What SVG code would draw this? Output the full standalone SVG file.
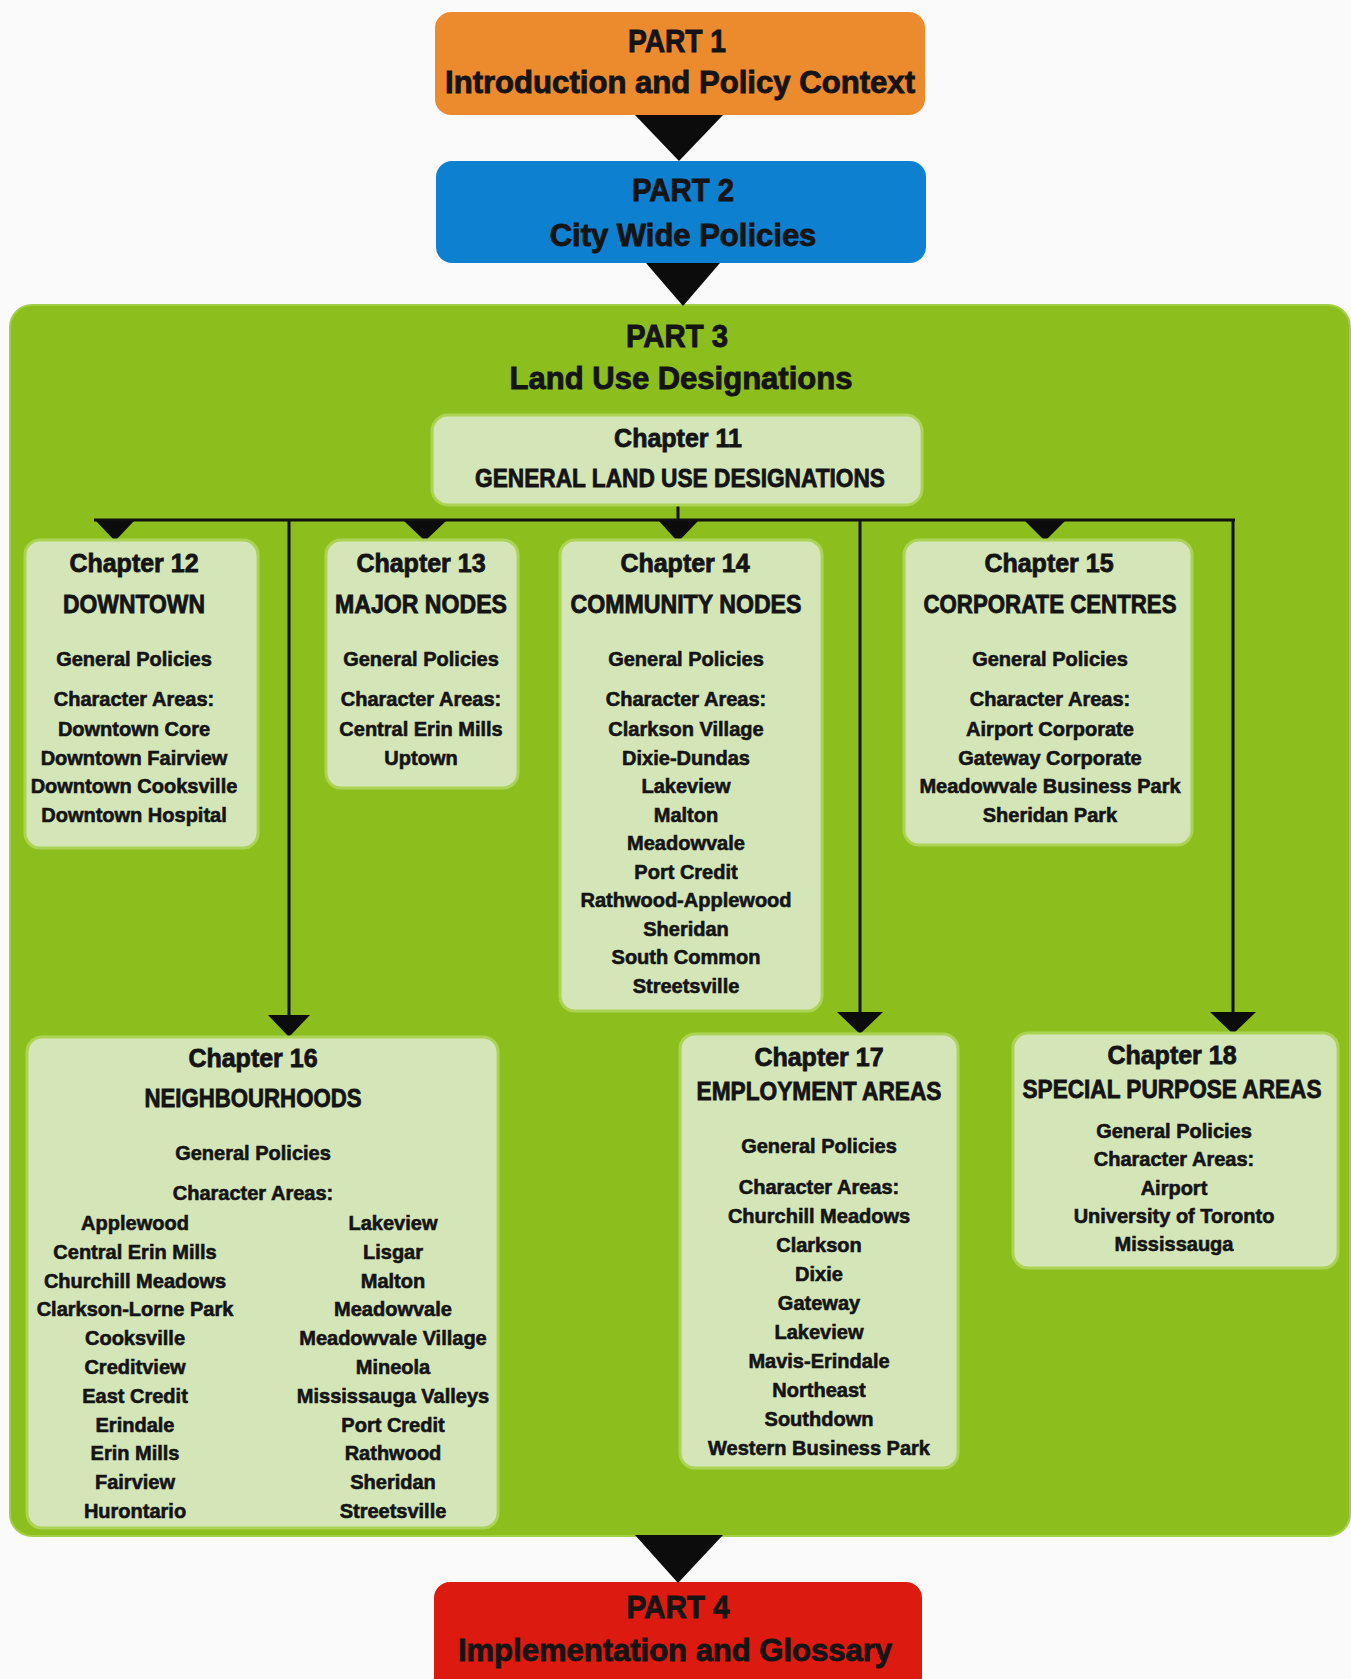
<svg xmlns="http://www.w3.org/2000/svg" width="1351" height="1679" viewBox="0 0 1351 1679">
<style>
text{font-family:"Liberation Sans",Arial,sans-serif;font-weight:bold;fill:#141414;stroke:#141414;stroke-width:0.6;text-anchor:middle}
.h{font-size:31px;stroke-width:0.9}
.t{font-size:25px;stroke-width:0.8}
.s{font-size:20px}
.box{fill:#D4E6B8;stroke:#ACD356;stroke-width:3}
.ln{stroke:#111;stroke-width:3;fill:none}
.ah{fill:#0c0c0c}
</style>
<rect width="1351" height="1679" fill="#FAFAFA"/>

<g id="part3">
<rect x="10" y="305" width="1340" height="1231" rx="22" fill="#8CBE1E" stroke="#A3CF45" stroke-width="2"/>
<text class="h" x="677" y="347" textLength="102" lengthAdjust="spacingAndGlyphs">PART 3</text>
<text class="h" x="681" y="389">Land Use Designations</text>
</g>

<g id="part1">
<rect x="435" y="12" width="490" height="103" rx="16" fill="#EC8A2E"/>
<text class="h" x="677" y="52" textLength="98" lengthAdjust="spacingAndGlyphs">PART 1</text>
<text class="h" x="680" y="93" textLength="470" lengthAdjust="spacingAndGlyphs">Introduction and Policy Context</text>
</g>

<g id="part2">
<rect x="436" y="161" width="490" height="102" rx="16" fill="#0E80D0"/>
<text class="h" x="683" y="201" textLength="102" lengthAdjust="spacingAndGlyphs">PART 2</text>
<text class="h" x="683" y="246">City Wide Policies</text>
</g>

<g id="part4">
<rect x="434" y="1582" width="488" height="120" rx="16" fill="#DC1A10"/>
<text class="h" x="678" y="1618" textLength="103" lengthAdjust="spacingAndGlyphs">PART 4</text>
<text class="h" x="675" y="1661">Implementation and Glossary</text>
</g>

<g id="connectors">
<polygon class="ah" points="635,115 723,115 679,161"/>
<polygon class="ah" points="646,263 720,263 683,306"/>
<polygon class="ah" points="635,1535 723,1535 678,1583"/>
<line class="ln" x1="678" y1="505" x2="678" y2="521"/>
<line class="ln" x1="94" y1="520" x2="1235" y2="520"/>
<line class="ln" x1="289" y1="520" x2="289" y2="1016"/>
<line class="ln" x1="860" y1="520" x2="860" y2="1013"/>
<line class="ln" x1="1233" y1="520" x2="1233" y2="1013"/>
<polygon class="ah" points="96,521 134,521 115,541"/>
<polygon class="ah" points="404,521 446,521 425,541"/>
<polygon class="ah" points="659,521 698,521 678,542"/>
<polygon class="ah" points="1025,521 1065,521 1045,541"/>
<polygon class="ah" points="268,1015 310,1015 289,1037"/>
<polygon class="ah" points="837,1012 883,1012 860,1034"/>
<polygon class="ah" points="1210,1012 1256,1012 1233,1034"/>
</g>

<g id="ch11">
<rect class="box" x="432" y="415" width="490" height="90" rx="16"/>
<text class="t" x="678" y="447">Chapter 11</text>
<text class="t" x="680" y="487" textLength="410" lengthAdjust="spacingAndGlyphs">GENERAL LAND USE DESIGNATIONS</text>
</g>

<g id="ch12">
<rect class="box" x="25" y="540" width="233" height="308" rx="15"/>
<text class="t" x="134" y="572">Chapter 12</text>
<text class="t" x="134" y="613" textLength="142" lengthAdjust="spacingAndGlyphs">DOWNTOWN</text>
<text class="s" x="134" y="666">General Policies</text>
<text class="s" x="134" y="706">Character Areas:</text>
<text class="s" x="134" y="736">Downtown Core</text>
<text class="s" x="134" y="764.5">Downtown Fairview</text>
<text class="s" x="134" y="793">Downtown Cooksville</text>
<text class="s" x="134" y="821.5">Downtown Hospital</text>
</g>

<g id="ch13">
<rect class="box" x="326" y="540" width="192" height="248" rx="15"/>
<text class="t" x="421" y="572">Chapter 13</text>
<text class="t" x="421" y="613" textLength="172" lengthAdjust="spacingAndGlyphs">MAJOR NODES</text>
<text class="s" x="421" y="666">General Policies</text>
<text class="s" x="421" y="706">Character Areas:</text>
<text class="s" x="421" y="736">Central Erin Mills</text>
<text class="s" x="421" y="764.5">Uptown</text>
</g>

<g id="ch14">
<rect class="box" x="560" y="540" width="262" height="471" rx="15"/>
<text class="t" x="685" y="572">Chapter 14</text>
<text class="t" x="686" y="613" textLength="231" lengthAdjust="spacingAndGlyphs">COMMUNITY NODES</text>
<text class="s" x="686" y="666">General Policies</text>
<text class="s" x="686" y="706">Character Areas:</text>
<text class="s" x="686" y="736">Clarkson Village</text>
<text class="s" x="686" y="764.5">Dixie-Dundas</text>
<text class="s" x="686" y="793">Lakeview</text>
<text class="s" x="686" y="821.5">Malton</text>
<text class="s" x="686" y="850">Meadowvale</text>
<text class="s" x="686" y="878.5">Port Credit</text>
<text class="s" x="686" y="907">Rathwood-Applewood</text>
<text class="s" x="686" y="935.5">Sheridan</text>
<text class="s" x="686" y="964">South Common</text>
<text class="s" x="686" y="992.5">Streetsville</text>
</g>

<g id="ch15">
<rect class="box" x="904" y="540" width="288" height="305" rx="15"/>
<text class="t" x="1049" y="572">Chapter 15</text>
<text class="t" x="1050" y="613" textLength="253" lengthAdjust="spacingAndGlyphs">CORPORATE CENTRES</text>
<text class="s" x="1050" y="666">General Policies</text>
<text class="s" x="1050" y="706">Character Areas:</text>
<text class="s" x="1050" y="736">Airport Corporate</text>
<text class="s" x="1050" y="764.5">Gateway Corporate</text>
<text class="s" x="1050" y="793">Meadowvale Business Park</text>
<text class="s" x="1050" y="821.5">Sheridan Park</text>
</g>

<g id="ch16">
<rect class="box" x="27" y="1037" width="471" height="491" rx="15"/>
<text class="t" x="253" y="1067">Chapter 16</text>
<text class="t" x="253" y="1107" textLength="217" lengthAdjust="spacingAndGlyphs">NEIGHBOURHOODS</text>
<text class="s" x="253" y="1160">General Policies</text>
<text class="s" x="253" y="1200">Character Areas:</text>
<text class="s" x="135" y="1230">Applewood</text>
<text class="s" x="135" y="1258.8">Central Erin Mills</text>
<text class="s" x="135" y="1287.6">Churchill Meadows</text>
<text class="s" x="135" y="1316.4">Clarkson-Lorne Park</text>
<text class="s" x="135" y="1345.2">Cooksville</text>
<text class="s" x="135" y="1374">Creditview</text>
<text class="s" x="135" y="1402.8">East Credit</text>
<text class="s" x="135" y="1431.6">Erindale</text>
<text class="s" x="135" y="1460.4">Erin Mills</text>
<text class="s" x="135" y="1489.2">Fairview</text>
<text class="s" x="135" y="1518">Hurontario</text>
<text class="s" x="393" y="1230">Lakeview</text>
<text class="s" x="393" y="1258.8">Lisgar</text>
<text class="s" x="393" y="1287.6">Malton</text>
<text class="s" x="393" y="1316.4">Meadowvale</text>
<text class="s" x="393" y="1345.2">Meadowvale Village</text>
<text class="s" x="393" y="1374">Mineola</text>
<text class="s" x="393" y="1402.8">Mississauga Valleys</text>
<text class="s" x="393" y="1431.6">Port Credit</text>
<text class="s" x="393" y="1460.4">Rathwood</text>
<text class="s" x="393" y="1489.2">Sheridan</text>
<text class="s" x="393" y="1518">Streetsville</text>
</g>

<g id="ch17">
<rect class="box" x="680" y="1034" width="278" height="434" rx="15"/>
<text class="t" x="819" y="1066">Chapter 17</text>
<text class="t" x="819" y="1100" textLength="245" lengthAdjust="spacingAndGlyphs">EMPLOYMENT AREAS</text>
<text class="s" x="819" y="1153">General Policies</text>
<text class="s" x="819" y="1194">Character Areas:</text>
<text class="s" x="819" y="1223">Churchill Meadows</text>
<text class="s" x="819" y="1252">Clarkson</text>
<text class="s" x="819" y="1281">Dixie</text>
<text class="s" x="819" y="1310">Gateway</text>
<text class="s" x="819" y="1339">Lakeview</text>
<text class="s" x="819" y="1368">Mavis-Erindale</text>
<text class="s" x="819" y="1397">Northeast</text>
<text class="s" x="819" y="1426">Southdown</text>
<text class="s" x="819" y="1455">Western Business Park</text>
</g>

<g id="ch18">
<rect class="box" x="1013" y="1033" width="325" height="235" rx="15"/>
<text class="t" x="1172" y="1064">Chapter 18</text>
<text class="t" x="1172" y="1098" textLength="299" lengthAdjust="spacingAndGlyphs">SPECIAL PURPOSE AREAS</text>
<text class="s" x="1174" y="1138">General Policies</text>
<text class="s" x="1174" y="1166">Character Areas:</text>
<text class="s" x="1174" y="1195">Airport</text>
<text class="s" x="1174" y="1223">University of Toronto</text>
<text class="s" x="1174" y="1251">Mississauga</text>
</g>
</svg>
